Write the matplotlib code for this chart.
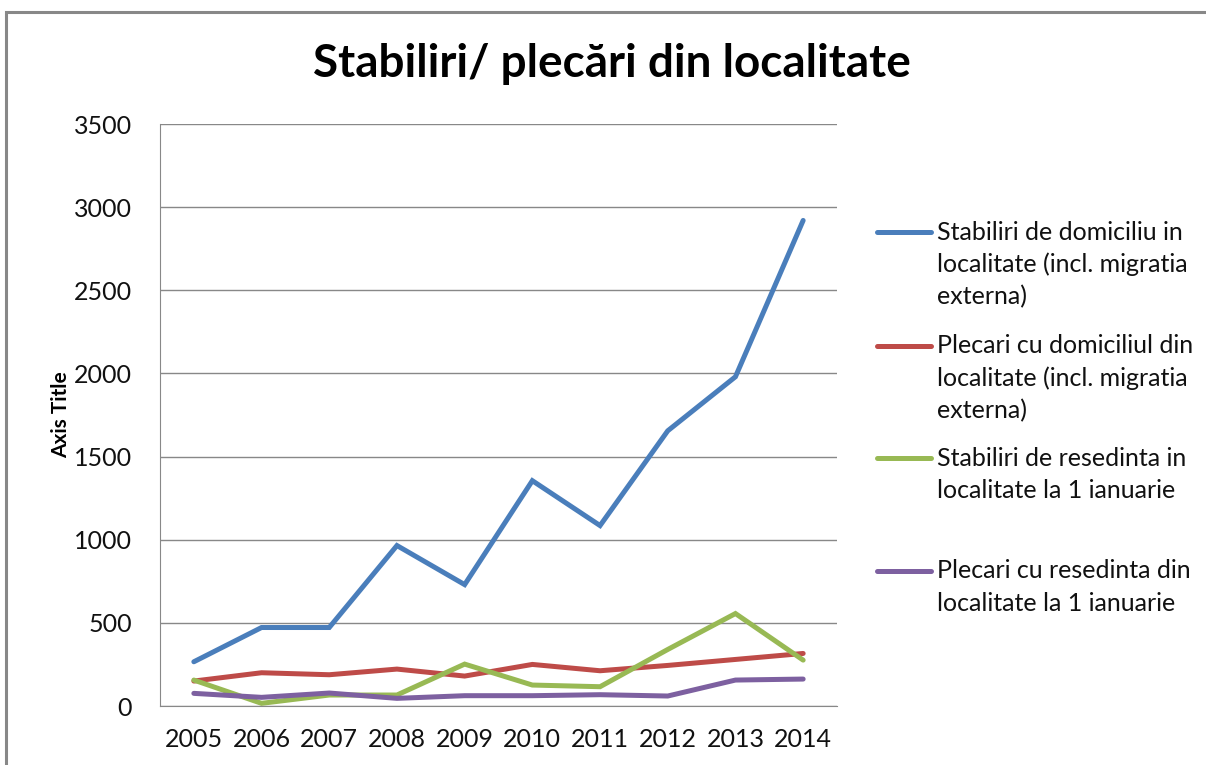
import matplotlib
matplotlib.use('Agg')
import matplotlib.pyplot as plt
from matplotlib.lines import Line2D
from matplotlib.patches import Rectangle

plt.rcParams['font.family'] = ['Lato', 'DejaVu Sans']

years = ['2005', '2006', '2007', '2008', '2009', '2010', '2011', '2012', '2013', '2014']
stab_domiciliu = [266, 472, 472, 965, 730, 1355, 1085, 1655, 1980, 2920]
plec_domiciliu = [150, 200, 188, 222, 180, 250, 212, 244, 280, 316]
stab_resedinta = [156, 16, 66, 66, 252, 126, 116, 340, 556, 276]
plec_resedinta = [76, 52, 78, 46, 62, 62, 68, 60, 156, 162]

labels = ['Stabiliri de domiciliu in\nlocalitate (incl. migratia\nexterna)',
          'Plecari cu domiciliul din\nlocalitate (incl. migratia\nexterna)',
          'Stabiliri de resedinta in\nlocalitate la 1 ianuarie',
          'Plecari cu resedinta din\nlocalitate la 1 ianuarie']
colors = ['#4A7EBB', '#BE4B48', '#98B954', '#7D60A0']
series = [stab_domiciliu, plec_domiciliu, stab_resedinta, plec_resedinta]

W, H = 1206, 765
fig = plt.figure(figsize=(W / 100, H / 100), dpi=100)

# outer chart border (runs off the right/bottom edges)
fig.patches.append(Rectangle((6 / W, -0.5), 2.0, 1 - 12 / H + 0.5, transform=fig.transFigure,
                             fill=False, edgecolor='#888888', linewidth=2.2))

ax = fig.add_axes([160 / W, 1 - 706 / H, 677 / W, 582 / H])
x = range(len(years))
for vals, c in zip(series, colors):
    ax.plot(x, vals, color=c, linewidth=3.6, solid_capstyle='round', solid_joinstyle='miter')

ax.set_xlim(-0.5, len(years) - 0.5)
ax.set_ylim(0, 3500)
ax.set_yticks(range(0, 3501, 500))
ax.set_xticks(list(x))
ax.set_xticklabels(years)
ax.yaxis.grid(True, color='#888888', linewidth=1)
ax.set_axisbelow(True)
ax.tick_params(length=0, labelsize=18, colors='#111111')
ax.tick_params(axis='x', pad=16)
ax.tick_params(axis='y', pad=20)
for s in ['top', 'right']:
    ax.spines[s].set_visible(False)
for s in ['left', 'bottom']:
    ax.spines[s].set_color('#888888')
ax.set_ylabel('Axis Title', fontsize=15, fontweight='bold', labelpad=2)

fig.text(612 / W, 1 - 64 / H, 'Stabiliri/ plecări din localitate', ha='center', va='center',
         fontsize=33, fontweight='bold')

# legend, one slot per series
tops = [232, 346, 458, 571]
for lab, c, ty in zip(labels, colors, tops):
    fig.lines.append(Line2D([877 / W, 931 / W], [1 - ty / H, 1 - ty / H], transform=fig.transFigure,
                            color=c, linewidth=3.6, solid_capstyle='round'))
    for k, line in enumerate(lab.split('\n')):
        fig.text(937 / W, 1 - (ty + 32.5 * k) / H, line, ha='left', va='center', fontsize=18,
                 color='#111111')

fig.savefig('out.png', dpi=100)
